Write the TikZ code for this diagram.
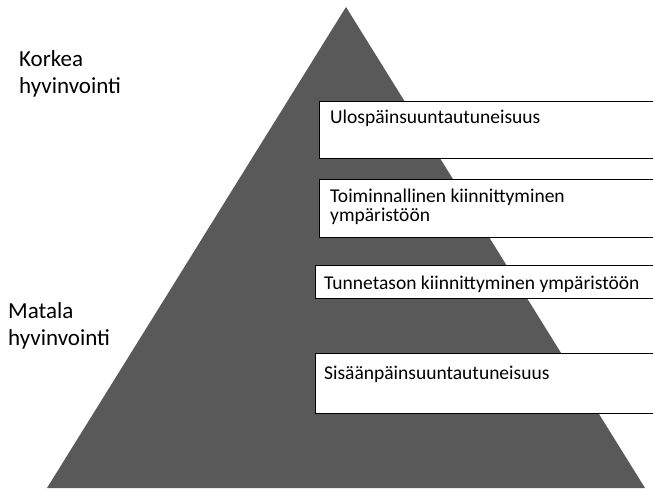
\documentclass[tikz,border=0pt]{standalone}
\usepackage{fontspec}
\setmainfont{Carlito}
\usetikzlibrary{calc}

\begin{document}
\begin{tikzpicture}[
x=1pt, y=-1pt,
level box/.style = {draw=black, line width=0.8pt, fill=white, anchor=north west, minimum width=360pt, inner sep=0pt},
level text/.style = {anchor=base west, inner sep=0pt, font=\fontsize{19.5}{19.5}\selectfont, align=left},
side label/.style = {anchor=north west, inner sep=0pt, font=\fontsize{23}{27}\selectfont, align=left},
]

\useasboundingbox (0,0) rectangle (653,489);
\clip (0,0) rectangle (653,489);

\coordinate (top) at (346,7);
\coordinate (left) at (47,488);
\coordinate (right) at (645,488);

\fill[black!65] (top) -- (left) -- (right) -- cycle;

\node (b1) [level box, minimum height=57pt] at (319,101) {};
\node (b2) [level box, minimum height=58pt] at (319,179) {};
\node (b3) [level box, minimum height=33pt] at (315,265) {};
\node (b4) [level box, minimum height=60pt] at (315,353) {};

% base of a two line node is its last line
\node (t1) [level text] at ($(b1.north west)+(11,23)$) {Ulospäinsuuntautuneisuus};
\node (t2) [level text] at ($(b2.north west)+(11,43)$) {Toiminnallinen kiinnittyminen\\ympäristöön};
\node (t3) [level text] at ($(b3.north west)+(9,24)$) {Tunnetason kiinnittyminen ympäristöön};
\node (t4) [level text] at ($(b4.north west)+(9,26)$) {Sisäänpäinsuuntautuneisuus};

\node (korkea) [side label] at (19,50) {Korkea\\hyvinvointi};
\node (matala) [side label] at (8,302) {Matala\\hyvinvointi};

\end{tikzpicture}
\end{document}
